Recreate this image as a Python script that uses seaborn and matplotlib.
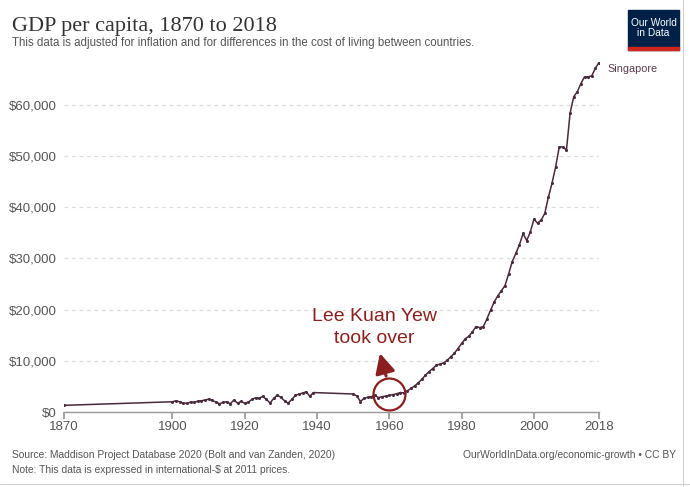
import pandas as pd
import seaborn as sns
import matplotlib.pyplot as plt
from matplotlib.patches import Rectangle
from matplotlib.lines import Line2D
from matplotlib.ticker import StrMethodFormatter

# Singapore GDP per capita (international-$, 2011 prices)
years_early = [1870]
gdp_early = [1300]

years_colonial = list(range(1900, 1940))
gdp_colonial = [2000, 2200, 2000, 1740, 1680, 1940, 1870, 2130, 2200, 2330,
                2520, 2260, 1940, 1610, 1870, 2000, 1610, 2330, 1740, 2070,
                1680, 1940, 2460, 2780, 2720, 3040, 2460, 1750, 2650, 3300,
                2850, 2200, 1700, 2460, 3240, 3500, 3700, 3950, 3050, 3800]

years_modern = list(range(1950, 2019))
gdp_modern = [3520, 3130, 2050, 2670, 2870, 3000, 3320, 2800, 3000, 3100,
              3250, 3400, 3550, 3800, 3750, 4150, 4600, 5100, 5700, 6400,
              7200, 7900, 8500, 9150, 9350, 9600, 10100, 10800, 11500, 12400,
              13400, 14300, 14800, 15700, 16700, 16500, 16700, 18200, 19900, 21500,
              22700, 23700, 24700, 27000, 29400, 31000, 32700, 34900, 33500, 35200,
              37700, 36900, 37500, 38800, 42000, 44700, 47900, 51800, 51800, 51200,
              58400, 61600, 62600, 64200, 65500, 65500, 65700, 67200, 68300]

x_ticks = [1870, 1900, 1920, 1940, 1960, 1980, 2000, 2018]
y_ticks = [0, 10000, 20000, 30000, 40000, 50000, 60000]

df = pd.DataFrame({
    "Year": years_early + years_colonial + years_modern,
    "GDP": gdp_early + gdp_colonial + gdp_modern,
})

sns.set_theme(style="white")
plt.rcParams["font.family"] = ["Liberation Sans", "DejaVu Sans"]

line_color = "#4a2a3c"
note_color = "#8b1f1f"

fig = plt.figure(figsize=(6.9, 4.87), dpi=100)
ax = fig.add_axes([64 / 690, 1 - 412 / 487, 535 / 690, 350.5 / 487])

sns.lineplot(data=df, x="Year", y="GDP", ax=ax, color=line_color, linewidth=1.1,
             marker="o", markersize=2.2, markeredgewidth=0, estimator=None)

ax.set_xlim(1870, 2018)
ax.set_ylim(0, 68500)
ax.set_xticks(x_ticks)
ax.set_yticks(y_ticks)
ax.yaxis.set_major_formatter(StrMethodFormatter("${x:,.0f}"))
ax.set_xlabel("")
ax.set_ylabel("")

for s in ["top", "right", "left"]:
    ax.spines[s].set_visible(False)
ax.spines["bottom"].set_color("#999999")
ax.spines["bottom"].set_linewidth(1)
ax.tick_params(axis="x", bottom=True, length=5, color="#999999", labelsize=9.5,
               labelcolor="#555555", pad=1.5)
ax.tick_params(axis="y", left=False, length=0, labelsize=9.5, labelcolor="#555555", pad=5)
ax.yaxis.grid(True, color="#dddddd", linestyle=(0, (3, 3)), linewidth=0.9)
ax.set_axisbelow(True)

# series label
ax.annotate("Singapore", xy=(years_modern[-1], gdp_modern[-1]), xytext=(8, -6),
            textcoords="offset pixels", fontsize=7.8, color="#5b3c4e",
            va="center", ha="left", annotation_clip=False)

# annotation: circle, arrow, text
ax.plot([1960], [3520], marker="o", markersize=23, markerfacecolor="none",
        markeredgecolor=note_color, markeredgewidth=1.6, clip_on=False)
ax.annotate("", xy=(1957.2, 12000), xytext=(1959.3, 6500),
            arrowprops=dict(arrowstyle="-|>,head_length=1.0,head_width=0.5",
                            color=note_color, lw=2.2))
ax.text(1955.8, 20400, "Lee Kuan Yew\ntook over", fontsize=14, color=note_color,
        ha="center", va="top", linespacing=1.38)

# titles
fig.text(12 / 690, 1 - 31 / 487, "GDP per capita, 1870 to 2018", fontsize=16,
         family="Liberation Serif", color="#333333", va="baseline")
fig.text(12 / 690, 1 - 46 / 487,
         "This data is adjusted for inflation and for differences in the cost of living between countries.",
         fontsize=8.3, color="#555555", va="baseline")

# footer
fig.text(12 / 690, 1 - 455 / 487,
         "Source: Maddison Project Database 2020 (Bolt and van Zanden, 2020)",
         fontsize=7.4, color="#555555", va="center")
fig.text(12 / 690, 1 - 470 / 487,
         "Note: This data is expressed in international-$ at 2011 prices.",
         fontsize=7.4, color="#555555", va="center")
fig.text(676 / 690, 1 - 455 / 487, "OurWorldInData.org/economic-growth \u2022 CC BY",
         fontsize=7.4, color="#555555", va="center", ha="right")

# logo
fig.patches.append(Rectangle((628 / 690, 1 - 50 / 487), 51 / 690, 40 / 487,
                             transform=fig.transFigure, color="#002147"))
fig.patches.append(Rectangle((628 / 690, 1 - 50 / 487), 51 / 690, 3 / 487,
                             transform=fig.transFigure, color="#ce261e"))
fig.text(653.5 / 690, 1 - 28 / 487, "Our World\nin Data", fontsize=7.3,
         color="white", ha="center", va="center", linespacing=1.0)

# faint frame of the screenshot
fig.lines.append(Line2D([683 / 690, 683 / 690], [0, 1], transform=fig.transFigure,
                        color="#d0d0d0", linewidth=0.8))
fig.lines.append(Line2D([0, 1], [3 / 487, 3 / 487], transform=fig.transFigure,
                        color="#d0d0d0", linewidth=0.8))

fig.savefig("out.png", dpi=100)
